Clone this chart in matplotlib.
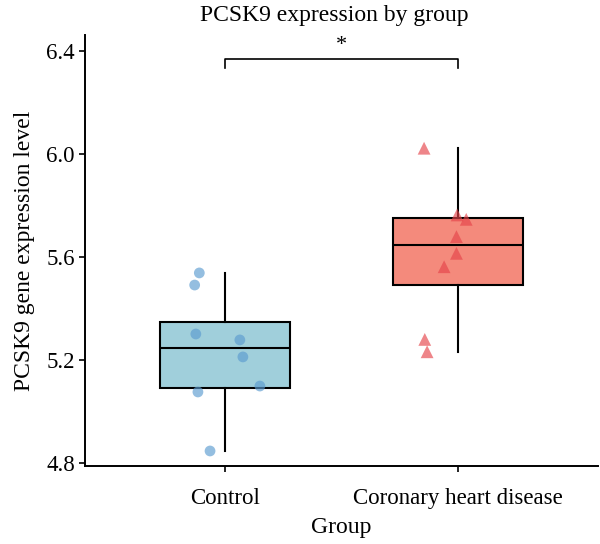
import matplotlib
matplotlib.use("Agg")
import matplotlib.pyplot as plt
import numpy as np

plt.rcParams['font.family'] = ['Liberation Serif', 'DejaVu Serif']

groups = ["Control", "Coronary heart disease"]
control = [5.538, 5.491, 5.301, 5.278, 5.212, 5.099, 5.076, 4.847]
control_jit = [-0.11, -0.13, -0.125, 0.064, 0.077, 0.15, -0.116, -0.064]
chd = [6.022, 5.763, 5.746, 5.679, 5.614, 5.562, 5.280, 5.232]
chd_jit = [-0.145, -0.003, 0.036, -0.006, -0.006, -0.059, -0.142, -0.132]

box_colors = ["#a0cfdb", "#f48a7c"]
pt_colors = ["#5b9bd0", "#e6444a"]

fig = plt.figure(figsize=(6, 5.44), dpi=100)
ax = fig.add_axes([0.142, 0.144, 0.854, 0.791])

bp = ax.boxplot([control, chd], positions=[0, 1], widths=0.56, patch_artist=True,
                showfliers=False, whis=1.5,
                medianprops=dict(color="black", linewidth=1.5),
                boxprops=dict(edgecolor="black", linewidth=1.5),
                whiskerprops=dict(color="black", linewidth=1.5),
                capprops=dict(linewidth=0))
for patch, c in zip(bp['boxes'], box_colors):
    patch.set_facecolor(c)

ax.scatter(np.array(control_jit), control, s=60, color=pt_colors[0], alpha=0.65,
           edgecolors="none", zorder=3)
ax.scatter(1 + np.array(chd_jit), chd, s=85, marker="^", color=pt_colors[1], alpha=0.65,
           edgecolors="none", zorder=3)

# significance bracket
ax.plot([0, 0, 1, 1], [6.335, 6.37, 6.37, 6.335], color="black", linewidth=1.2, clip_on=False)
ax.text(0.5, 6.385, "*", ha="center", va="bottom", fontsize=16)

ax.set_xlim(-0.6, 1.6)
ax.set_ylim(4.79, 6.46)
ax.set_yticks([4.8, 5.2, 5.6, 6.0, 6.4])
ax.set_yticklabels(["4.8", "5.2", "5.6", "6.0", "6.4"])
ax.set_xticks([0, 1])
ax.set_xticklabels(groups)
ax.tick_params(labelsize=16.5, width=1.2, length=4)
ax.tick_params(axis="x", pad=12)
for s in ["top", "right"]:
    ax.spines[s].set_visible(False)
for s in ["left", "bottom"]:
    ax.spines[s].set_linewidth(1.4)

fig.text(0.557, 0.972, "PCSK9 expression by group", fontsize=17, ha="center", va="center")
ax.set_xlabel("Group", fontsize=17, labelpad=6)
ax.set_ylabel("PCSK9 gene expression level", fontsize=17, labelpad=8)

fig.savefig("out.png", dpi=100)
